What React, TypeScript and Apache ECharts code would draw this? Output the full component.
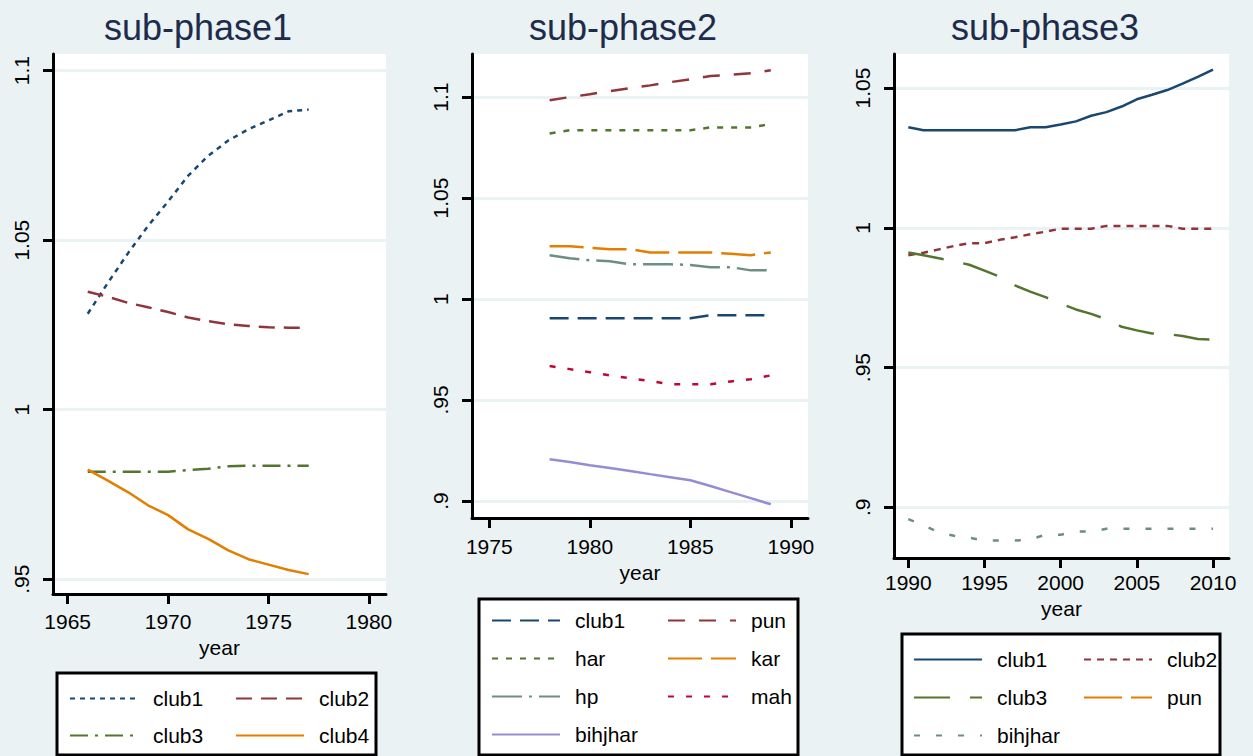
import React, { useEffect, useRef } from 'react';
import * as echarts from 'echarts';

// ---------- data ----------
const years1 = [1966, 1967, 1968, 1969, 1970, 1971, 1972, 1973, 1974, 1975, 1976, 1977];
const p1Club1 = [1.0283, 1.0374, 1.0461, 1.0542, 1.0614, 1.069, 1.0749, 1.0794, 1.0827, 1.0853, 1.088, 1.0885];
const p1Club2 = [1.0348, 1.0333, 1.0315, 1.0302, 1.0288, 1.0272, 1.0261, 1.0252, 1.0247, 1.0243, 1.0242, 1.0242];
const p1Club3 = [0.9817, 0.9817, 0.9817, 0.9817, 0.9817, 0.9822, 0.9826, 0.9833, 0.9835, 0.9835, 0.9835, 0.9835];
const p1Club4 = [0.9823, 0.9791, 0.9757, 0.9718, 0.9689, 0.9647, 0.9619, 0.9585, 0.9559, 0.9543, 0.9527, 0.9515];

const years2 = [1978, 1979, 1980, 1981, 1982, 1983, 1984, 1985, 1986, 1987, 1988, 1989];
const p2Club1 = [0.9905, 0.9905, 0.9905, 0.9905, 0.9905, 0.9905, 0.9905, 0.9905, 0.992, 0.992, 0.992, 0.992];
const p2Pun = [1.0984, 1.1, 1.1014, 1.103, 1.1044, 1.1058, 1.1074, 1.1088, 1.1104, 1.1111, 1.1118, 1.1133];
const p2Har = [1.082, 1.0836, 1.0836, 1.0836, 1.0836, 1.0836, 1.0836, 1.0836, 1.085, 1.085, 1.085, 1.0866];
const p2Kar = [1.0261, 1.0261, 1.0254, 1.0247, 1.0247, 1.0231, 1.0231, 1.0231, 1.0231, 1.0224, 1.0217, 1.0231];
const p2Hp = [1.0217, 1.0202, 1.0192, 1.0187, 1.0172, 1.0172, 1.0172, 1.0169, 1.0158, 1.0158, 1.0142, 1.0142];
const p2Mah = [0.9668, 0.9653, 0.9638, 0.9622, 0.9608, 0.9594, 0.9578, 0.9578, 0.9578, 0.9592, 0.9603, 0.9622];
const p2Bihjhar = [0.9207, 0.9193, 0.9177, 0.9163, 0.9149, 0.9133, 0.9118, 0.9103, 0.9074, 0.9044, 0.9014, 0.8984];

const years3 = [1990, 1991, 1992, 1993, 1994, 1995, 1996, 1997, 1998, 1999, 2000, 2001, 2002, 2003, 2004, 2005, 2006, 2007, 2008, 2009, 2010];
const p3Club1 = [1.036, 1.0349, 1.0349, 1.0349, 1.0349, 1.0349, 1.0349, 1.0349, 1.036, 1.036, 1.037, 1.0381, 1.0401, 1.0414, 1.0434, 1.046, 1.0476, 1.0493, 1.0516, 1.054, 1.0566];
const p3Club2 = [0.9902, 0.9911, 0.9923, 0.9935, 0.9945, 0.9945, 0.9957, 0.9966, 0.9977, 0.9986, 0.9997, 0.9997, 0.9997, 1.0007, 1.0007, 1.0007, 1.0007, 1.0007, 0.9997, 0.9997, 0.9997];
const p3Club3 = [0.9912, 0.9902, 0.9891, 0.988, 0.9868, 0.9847, 0.9825, 0.9794, 0.9772, 0.9752, 0.9729, 0.9708, 0.9692, 0.9673, 0.9646, 0.9633, 0.9622, 0.962, 0.9613, 0.9602, 0.96];
const p3Pun: number[] = [];
const p3Bihjhar = [0.8958, 0.8935, 0.8911, 0.8898, 0.8891, 0.8881, 0.8881, 0.8881, 0.8885, 0.8902, 0.8902, 0.8913, 0.8913, 0.8923, 0.8923, 0.8923, 0.8923, 0.8923, 0.8923, 0.8923, 0.8923];

const xTicks1 = [1965, 1970, 1975, 1980];
const xTicks2 = [1975, 1980, 1985, 1990];
const xTicks3 = [1990, 1995, 2000, 2005, 2010];
const yTicks1 = [0.95, 1, 1.05, 1.1];
const yTicks2 = [0.9, 0.95, 1, 1.05, 1.1];
const yTicks3 = [0.9, 0.95, 1, 1.05];

const titles = ['sub-phase1', 'sub-phase2', 'sub-phase3'];

// ---------- styles ----------
const NAVY = '#1a476f';
const MAROON = '#90353b';
const GREEN = '#55752f';
const ORANGE = '#e37e00';
const TEAL = '#6e8e84';
const CRAN = '#c10534';
const LAV = '#938dd2';
const BG = '#eaf2f3';
const FONT = '"Liberation Sans", Arial, sans-serif';

function pairs(xs: number[], ys: number[]) {
  return ys.map((y, i) => [xs[i], y]);
}

function fmtY(v: number) {
  const s = String(+Number(v).toFixed(4));
  return s.replace(/^0\./, '.');
}

function xAx(gi: number, min: number, max: number, ticks: number[], margin: number, nameGap: number) {
  return {
    type: 'value', gridIndex: gi, min, max,
    name: 'year', nameLocation: 'middle', nameGap,
    nameTextStyle: { fontSize: 21, color: '#000', fontFamily: FONT },
    axisLine: { show: true, onZero: false, lineStyle: { color: '#000', width: 3 } },
    axisTick: { show: true, length: 10, customValues: ticks, lineStyle: { color: '#000', width: 3 } },
    axisLabel: { customValues: ticks, margin, fontSize: 21, color: '#000', fontFamily: FONT, formatter: (v: number) => String(v) },
    splitLine: { show: false },
    z: 5,
  };
}

function yAx(gi: number, min: number, max: number, ticks: number[]) {
  return {
    type: 'value', gridIndex: gi, min, max,
    axisLine: { show: true, onZero: false, lineStyle: { color: '#000', width: 3 } },
    axisTick: { show: true, length: 10, customValues: ticks, lineStyle: { color: '#000', width: 3 } },
    axisLabel: { customValues: ticks, rotate: 90, margin: 21, fontSize: 21, color: '#000', fontFamily: FONT, formatter: (v: number) => fmtY(v) },
    splitLine: { show: false },
    z: 5,
  };
}

function gridSeries(gi: number, ticks: number[]) {
  return {
    type: 'line', name: '_grid' + gi, xAxisIndex: gi, yAxisIndex: gi, data: [], z: 1, silent: true,
    markLine: {
      z: 1, silent: true, symbol: ['none', 'none'], label: { show: false }, animation: false,
      lineStyle: { color: BG, width: 3, type: 'solid' },
      emphasis: { disabled: true },
      data: ticks.map((t) => ({ yAxis: t })),
    },
  };
}

function lineSeries(name: string, gi: number, xs: number[], ys: number[], color: string, dash: any) {
  return {
    type: 'line', name, xAxisIndex: gi, yAxisIndex: gi, data: pairs(xs, ys),
    symbol: 'none', showSymbol: false, z: 3, silent: true,
    lineStyle: { color, width: 2.5, type: dash },
    itemStyle: { color },
  };
}

function legendCol(names: string[], left: number, top: number, gap: number) {
  return {
    orient: 'vertical', left, top, itemGap: gap, itemWidth: 68, itemHeight: 20, padding: 0,
    selectedMode: false, data: names,
    itemStyle: { opacity: 0, borderWidth: 0, color: 'rgba(0,0,0,0)' },
    formatter: (n: string) => n.replace(/^p\d_/, ''),
    textStyle: { fontSize: 21, color: '#000', fontFamily: FONT, lineHeight: 20, padding: [0, 0, 0, 10] },
  };
}

export default function App() {
  const ref = useRef<HTMLDivElement>(null);
  useEffect(() => {
    const chart = echarts.init(ref.current as HTMLDivElement, null, { renderer: 'svg' });
    const option: any = {
      animation: false,
      backgroundColor: BG,
      grid: [
        { left: 53, top: 54, width: 333, height: 540, show: true, backgroundColor: '#fff', borderWidth: 0 },
        { left: 472, top: 54, width: 336, height: 464, show: true, backgroundColor: '#fff', borderWidth: 0 },
        { left: 894, top: 54, width: 335, height: 504, show: true, backgroundColor: '#fff', borderWidth: 0 },
      ],
      xAxis: [
        xAx(0, 1964.27, 1980.85, xTicks1, 17, 39),
        xAx(1, 1974.14, 1990.85, xTicks2, 18, 42),
        xAx(2, 1989.06, 2011.05, xTicks3, 14, 37),
      ],
      yAxis: [
        yAx(0, 0.94564, 1.1049, yTicks1),
        yAx(1, 0.89158, 1.12134, yTicks2),
        yAx(2, 0.88186, 1.0622, yTicks3),
      ],
      legend: [
        legendCol(['p1_club1', 'p1_club3'], 69, 688, 16),
        legendCol(['p1_club2', 'p1_club4'], 235, 688, 16),
        legendCol(['p2_club1', 'p2_har', 'p2_hp', 'p2_bihjhar'], 491, 610, 17),
        legendCol(['p2_pun', 'p2_kar', 'p2_mah'], 667, 610, 17),
        legendCol(['p3_club1', 'p3_club3', 'p3_bihjhar'], 913, 649, 17),
        legendCol(['p3_club2', 'p3_pun'], 1083, 649, 17),
      ],
      graphic: [
        { type: 'rect', z: 1, shape: { x: 57, y: 673, width: 319, height: 82 }, style: { fill: '#fff', stroke: '#000', lineWidth: 3 } },
        { type: 'rect', z: 1, shape: { x: 479, y: 599, width: 319, height: 156 }, style: { fill: '#fff', stroke: '#000', lineWidth: 3 } },
        { type: 'rect', z: 1, shape: { x: 902, y: 634, width: 318, height: 121 }, style: { fill: '#fff', stroke: '#000', lineWidth: 3 } },
        { type: 'text', x: 198, y: 27, style: { text: titles[0], fontSize: 36, fontFamily: FONT, fill: '#1e2c4c', align: 'center', verticalAlign: 'middle' } },
        { type: 'text', x: 623, y: 27, style: { text: titles[1], fontSize: 36, fontFamily: FONT, fill: '#1e2c4c', align: 'center', verticalAlign: 'middle' } },
        { type: 'text', x: 1045, y: 27, style: { text: titles[2], fontSize: 36, fontFamily: FONT, fill: '#1e2c4c', align: 'center', verticalAlign: 'middle' } },
      ],
      series: [
        gridSeries(0, yTicks1),
        gridSeries(1, yTicks2),
        gridSeries(2, yTicks3),
        lineSeries('p1_club1', 0, years1, p1Club1, NAVY, [5, 5]),
        lineSeries('p1_club2', 0, years1, p1Club2, MAROON, [16, 9]),
        lineSeries('p1_club3', 0, years1, p1Club3, GREEN, [18, 7, 3, 7]),
        lineSeries('p1_club4', 0, years1, p1Club4, ORANGE, 'solid'),
        lineSeries('p2_club1', 1, years2, p2Club1, NAVY, [19, 9]),
        lineSeries('p2_pun', 1, years2, p2Pun, MAROON, [17, 14]),
        lineSeries('p2_har', 1, years2, p2Har, GREEN, [6, 8]),
        lineSeries('p2_kar', 1, years2, p2Kar, ORANGE, [34, 9]),
        lineSeries('p2_hp', 1, years2, p2Hp, TEAL, [30, 7, 3, 7]),
        lineSeries('p2_mah', 1, years2, p2Mah, CRAN, [6, 12]),
        lineSeries('p2_bihjhar', 1, years2, p2Bihjhar, LAV, 'solid'),
        lineSeries('p3_club1', 2, years3, p3Club1, NAVY, 'solid'),
        lineSeries('p3_club2', 2, years3, p3Club2, MAROON, [7, 6]),
        lineSeries('p3_club3', 2, years3, p3Club3, GREEN, [36, 20]),
        lineSeries('p3_pun', 2, years3, p3Pun, ORANGE, [38, 9]),
        lineSeries('p3_bihjhar', 2, years3, p3Bihjhar, TEAL, [6, 16]),
      ],
    };
    chart.setOption(option);
    return () => chart.dispose();
  }, []);
  return <div ref={ref} style={{ position: 'fixed', left: 0, top: 0, width: 1253, height: 756 }} />;
}
